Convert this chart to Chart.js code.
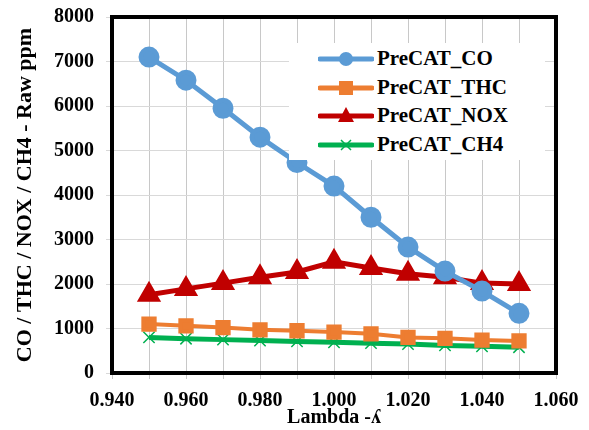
<!DOCTYPE html>
<html lang="en">
<head>
    <meta charset="utf-8">
    <title>PreCAT emissions vs Lambda</title>
    <script src="https://cdn.jsdelivr.net/npm/chart.js"></script>
    <style>
        body { margin: 0; background: #fff; }
        #wrap { position: relative; width: 589px; height: 430px; }
        #legend {
            position: absolute; left: 289px; top: 43px; width: 256px; height: 117px;
            background: #fff; font-family: "Liberation Serif", serif; font-weight: bold;
            font-size: 21px; color: #000;
        }
        .item { position: absolute; left: 0; height: 29px; display: flex; align-items: center; }
        .item svg { margin-left: 29px; margin-right: 3px; }
    </style>
</head>
<body>
<div id="wrap">
    <canvas id="myChart" width="589" height="430"></canvas>
    <div id="legend"></div>
</div>
<script>
    // lambda values (x) and raw ppm readings
    var lambdas = [0.95, 0.96, 0.97, 0.98, 0.99, 1.00, 1.01, 1.02, 1.03, 1.04, 1.05];
    var co  = [7100, 6580, 5950, 5300, 4730, 4200, 3500, 2830, 2290, 1840, 1340];
    var thc = [1100, 1060, 1020, 970, 950, 920, 880, 800, 780, 740, 720];
    var nox = [1760, 1890, 2020, 2150, 2270, 2500, 2360, 2230, 2150, 2020, 2000];
    var ch4 = [800, 770, 750, 730, 710, 690, 670, 650, 620, 600, 580];
    var seriesNames = ["PreCAT_CO", "PreCAT_THC", "PreCAT_NOX", "PreCAT_CH4"];
    var colors = ["#5B9BD5", "#ED7D31", "#C00000", "#00B050"];
    var xTicks = [0.940, 0.960, 0.980, 1.000, 1.020, 1.040, 1.060];

    function pts(vals) {
        return vals.map(function (v, i) { return { x: lambdas[i], y: v }; });
    }

    var font = { family: "Liberation Serif", weight: "bold", size: 20 };

    // thick black frame round the plot area
    var frame = {
        id: "frame",
        beforeDatasetsDraw: function (chart) {
            var a = chart.chartArea, c = chart.ctx;
            c.save();
            c.strokeStyle = "#000";
            c.lineWidth = 4;
            c.strokeRect(a.left, a.top, a.right - a.left, a.bottom - a.top);
            c.restore();
        }
    };

    var ctx = document.getElementById("myChart").getContext("2d");
    var myChart = new Chart(ctx, {
        type: "line",
        data: {
            datasets: [
                { label: seriesNames[0], data: pts(co), borderColor: colors[0], backgroundColor: colors[0],
                  borderWidth: 5, pointStyle: "circle", pointRadius: 8 },
                { label: seriesNames[1], data: pts(thc), borderColor: colors[1], backgroundColor: colors[1],
                  borderWidth: 4, pointStyle: "rect", pointRadius: 8 },
                { label: seriesNames[2], data: pts(nox), borderColor: colors[2], backgroundColor: colors[2],
                  borderWidth: 5, pointStyle: "triangle", pointRadius: 9 },
                { label: seriesNames[3], data: pts(ch4), borderColor: colors[3], backgroundColor: colors[3],
                  borderWidth: 5, pointStyle: "crossRot", pointRadius: 8, pointBorderWidth: 1.5 }
            ]
        },
        options: {
            responsive: false,
            animation: false,
            layout: { padding: { top: 16, right: 33, left: 12, bottom: 0 } },
            plugins: { legend: { display: false }, tooltip: { enabled: false } },
            scales: {
                x: {
                    type: "linear", min: 0.94, max: 1.06,
                    border: { display: false },
                    grid: { color: "#c8c8c8", lineWidth: 1, tickLength: 6 },
                    afterBuildTicks: function (axis) {
                        axis.ticks = [];
                        for (var i = 0; i <= 12; i++) axis.ticks.push({ value: 0.94 + i * 0.01 });
                    },
                    afterFit: function (axis) { axis.height = 57; },
                    ticks: {
                        autoSkip: false, maxRotation: 0, color: "#000", font: font, padding: 10,
                        callback: function (v, i) {
                            return i % 2 === 0 ? xTicks[i / 2].toFixed(3) : "";
                        }
                    },
                    title: { display: true, text: "Lambda -ʎ", color: "#000", font: font, padding: 0 }
                },
                y: {
                    min: 0, max: 8000,
                    border: { display: false },
                    grid: { color: "#d9d9d9", lineWidth: 1, tickLength: 6 },
                    afterFit: function (axis) { axis.width = 100; },
                    ticks: { stepSize: 1000, color: "#000", padding: 12,
                             font: { family: "Liberation Serif", weight: "bold", size: 20, lineHeight: 0.5 },
                             callback: function (v) { return String(v); } },
                    title: { display: true, text: "CO / THC / NOX / CH4 - Raw ppm", color: "#000",
                             font: { family: "Liberation Serif", weight: "bold", size: 22 }, padding: 0 }
                }
            }
        },
        plugins: [frame]
    });

    // legend drawn as html over the top right of the plot
    var shapes = [
        '<circle cx="28" cy="10" r="7" fill="C"/>',
        '<rect x="21" y="3" width="14" height="14" fill="C"/>',
        '<polygon points="28,1 36,16 20,16" fill="C"/>',
        '<path d="M23 5 L33 15 M33 5 L23 15" stroke="C" stroke-width="1.5"/>'
    ];
    var legend = document.getElementById("legend");
    var rowTops = [1, 30, 58, 87];
    seriesNames.forEach(function (name, i) {
        var d = document.createElement("div");
        d.className = "item";
        d.style.top = rowTops[i] + "px";
        d.innerHTML = '<svg width="56" height="20"><line x1="2" y1="10" x2="54" y2="10" stroke="' + colors[i] +
            '" stroke-width="5" stroke-linecap="round"/>' + shapes[i].replace(/C"/g, colors[i] + '"') +
            '</svg><span>' + name + '</span>';
        legend.appendChild(d);
    });
</script>
</body>
</html>
